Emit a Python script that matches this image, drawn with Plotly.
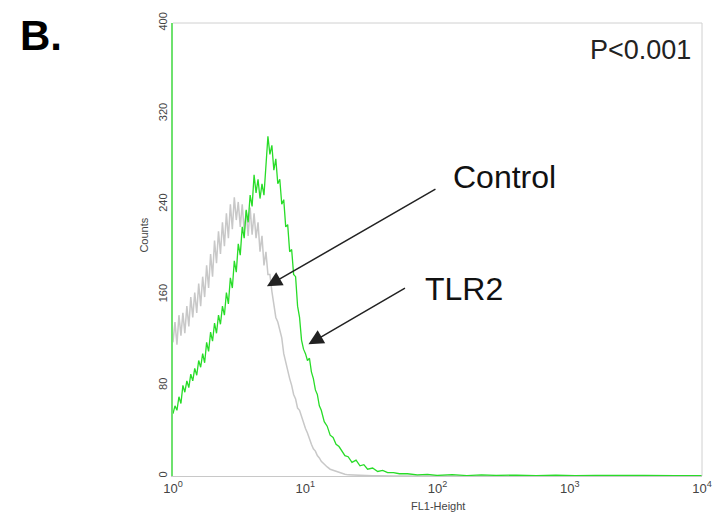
import plotly.graph_objects as go

# FL1 channel values (shared grid for both histograms)
fl1_channels = [
    1.000, 1.035, 1.071, 1.109, 1.148, 1.188, 1.229, 1.273, 1.317, 1.363,
    1.411, 1.460, 1.512, 1.564, 1.619, 1.676, 1.735, 1.796, 1.859, 1.924,
    1.991, 2.061, 2.133, 2.208, 2.285, 2.365, 2.448, 2.534, 2.623, 2.715,
    2.810, 2.908, 3.010, 3.115, 3.225, 3.338, 3.454, 3.575, 3.700, 3.830,
    3.964, 4.103, 4.246, 4.395, 4.549, 4.709, 4.874, 5.044, 5.221, 5.404,
    5.593, 5.789, 5.991, 6.201, 6.418, 6.643, 6.876, 7.117, 7.366, 7.624,
    7.891, 8.167, 8.454, 8.750, 9.056, 9.373, 9.703, 10.04,
    10.39, 10.76, 11.13, 11.52, 11.93, 12.34, 12.78, 13.22,
    13.92, 14.65, 15.43, 16.24, 17.10, 18.00, 18.95, 19.95, 21.10,
    22.56, 24.22, 25.93, 27.75, 29.60,
    32.30, 35.30, 38.50, 42.00, 46.50, 51.50, 59.20, 70.40, 83.90, 99.30,
    129.0, 167.0, 215.0, 277.0, 395.0, 558.0, 784.0, 1100, 1560, 2200, 3670, 6230, 10000,
]

control_counts = [
    118, 136, 116, 142, 124, 144, 126, 150, 132, 158,
    140, 162, 144, 170, 150, 176, 158, 186, 166, 196,
    176, 208, 188, 216, 196, 224, 203, 232, 210, 240,
    218, 246, 226, 242, 220, 240, 216, 234, 212, 237,
    213, 232, 210, 224, 198, 212, 186, 198, 178, 178,
    163, 150, 140, 136, 130, 122, 108, 100, 92, 86,
    80, 72, 68, 60, 58, 52, 48, 42,
    38, 32, 28, 24, 22, 18, 16, 13,
    10, 8, 6, 5, 4, 3, 2, 1.5, 1,
    0.8, 0.6, 0.5, 0.3, 0.3,
    0.2, 0.2, 0, 0, 0, 0, 0, 0, 0, 0,
    0, 0, 0, 0, 0, 0, 0, 0, 0, 0, 0, 0, 0,
]

tlr2_counts = [
    55, 62, 58, 70, 64, 80, 74, 84, 78, 90,
    84, 95, 89, 102, 96, 108, 100, 118, 110, 127,
    119, 135, 126, 142, 134, 150, 142, 162, 152, 175,
    166, 190, 180, 205, 195, 220, 210, 235, 224, 248,
    238, 266, 250, 262, 245, 258, 248, 280, 300, 284,
    292, 270, 280, 258, 262, 240, 244, 220, 222, 198,
    200, 178, 176, 150, 140, 120, 112, 108,
    102, 104, 92, 86, 76, 72, 62, 58,
    48, 44, 36, 34, 28, 26, 22, 18, 17,
    12, 14, 9, 10, 6,
    7, 4, 5, 3, 3, 2, 2, 1, 1.5, 0.5,
    1.2, 0.4, 1, 0.5, 0.8, 0.3, 0.7, 0.3, 0.6, 0.3, 0.5, 0.2, 0.4,
]

x_tick_vals = [1, 10, 100, 1000, 10000]
x_tick_text = ["10<sup>0</sup>", "10<sup>1</sup>", "10<sup>2</sup>", "10<sup>3</sup>", "10<sup>4</sup>"]
y_tick_vals = [0, 80, 160, 240, 320, 400]

FONT = "Arial, Liberation Sans, sans-serif"

L, R, T, B = 173, 708, 15, 476   # plot box in page pixels


def px(x):
    return (x - L) / (R - L)


def py(y):
    return (B - y) / (B - T)


fig = go.Figure()
fig.add_trace(go.Scatter(x=fl1_channels, y=control_counts, mode="lines", name="Control",
                         line=dict(color="rgb(200,200,200)", width=1.5)))
fig.add_trace(go.Scatter(x=fl1_channels, y=tlr2_counts, mode="lines", name="TLR2",
                         line=dict(color="rgb(40,220,40)", width=1.3)))


def label(text, x, y, size, color="#111", angle=0, xanchor="center"):
    return dict(text=text, xref="paper", yref="paper", x=px(x), y=py(y), xanchor=xanchor,
                yanchor="middle", textangle=angle, showarrow=False,
                font=dict(size=size, color=color, family=FONT))


def arrow(hx, hy, tx, ty):
    return dict(text="", xref="paper", yref="paper", x=px(hx), y=py(hy),
                axref="pixel", ayref="pixel", ax=tx - hx, ay=ty - hy, showarrow=True,
                arrowhead=2, arrowsize=2.0, arrowwidth=1.5, arrowcolor="#222", standoff=0)


fig.update_layout(
    width=724, height=517,
    margin=dict(l=L, r=724 - R, t=T, b=517 - B),
    paper_bgcolor="white", plot_bgcolor="white",
    showlegend=False,
    font=dict(family=FONT, color="#333"),
    xaxis=dict(type="log", range=[0, 4], tickvals=x_tick_vals, ticktext=x_tick_text,
               showgrid=False, zeroline=False, showline=True, linecolor="#c8c8c8", linewidth=1,
               ticks="", tickfont=dict(size=13, color="#444")),
    yaxis=dict(range=[0, 400], tickvals=y_tick_vals, tickangle=-90,
               showgrid=False, zeroline=False, showline=True, linecolor="rgb(110,225,110)", linewidth=1.5,
               ticks="", tickfont=dict(size=11, color="#444")),
    shapes=[
        dict(type="line", xref="paper", yref="paper", x0=0, x1=1, y0=1, y1=1,
             line=dict(color="#d0d0d0", width=1)),
        dict(type="line", xref="paper", yref="paper", x0=1, x1=1, y0=0, y1=1,
             line=dict(color="#d0d0d0", width=1)),
    ],
    annotations=[
        label("<b>B.</b>", 40, 28, 42, color="black"),
        label("P<0.001", 699, 42, 27, color="#222", xanchor="right"),
        label("Control", 508, 172, 32),
        label("TLR2", 467, 286, 32),
        label("Counts", 144, 231, 11, color="#444", angle=-90),
        label("FL1-Height", 441, 507, 11, color="#444"),
        arrow(268, 283, 438, 185),
        arrow(310, 342, 408, 285),
    ],
)

fig.write_html("out.html", config={"displayModeBar": False},
               post_script="document.body.style.margin='0';")
